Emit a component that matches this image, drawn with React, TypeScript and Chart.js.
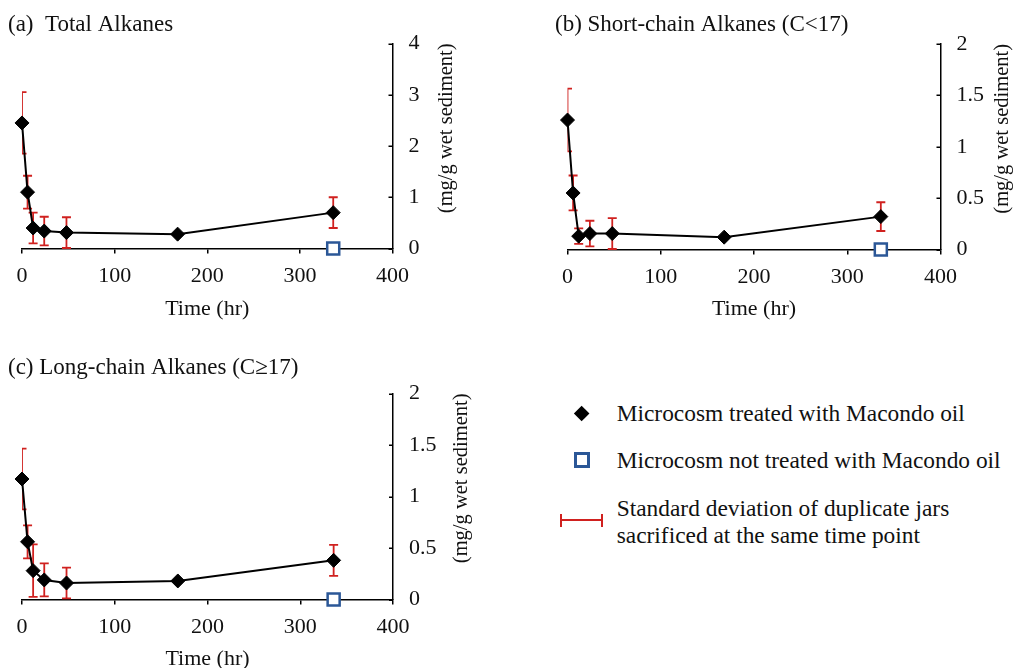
import React, { useEffect, useRef } from "react";
import { Chart, registerables } from "chart.js";

Chart.register(...registerables);

// ---------- data ----------
const hours = [0, 6, 12, 24, 48, 168, 336];
const totalMean = [2.45, 1.1, 0.4, 0.34, 0.31, 0.28, 0.7];
const totalSd = [0.6, 0.32, 0.3, 0.28, 0.3, 0, 0.3];
const shortMean = [1.26, 0.55, 0.13, 0.155, 0.155, 0.12, 0.32];
const shortSd = [0.305, 0.17, 0.075, 0.125, 0.15, 0, 0.14];
const longMean = [1.17, 0.56, 0.28, 0.19, 0.16, 0.18, 0.38];
const longSd = [0.295, 0.16, 0.255, 0.16, 0.15, 0, 0.15];
const controlHours = [336];
const controlTotal = [0];
const controlShort = [0];
const controlLong = [0];
const xTicks = [0, 100, 200, 300, 400];
const yTicksTotal = [0, 1, 2, 3, 4];
const yTicksPart = [0, 0.5, 1, 1.5, 2];
const panelTitles = [
  "(a)  Total Alkanes",
  "(b) Short-chain Alkanes (C<17)",
  "(c) Long-chain Alkanes (C\u226517)",
];
const xTitle = "Time (hr)";
const yTitle = "(mg/g wet sediment)";
const legendLabels = [
  "Microcosm treated with Macondo oil",
  "Microcosm not treated with Macondo oil",
  "Standard deviation of duplicate jars",
  "sacrificed at the same time point",
];

// ---------- styles / layout ----------
const FAMILY = "Liberation Serif, Times New Roman, serif";
const TEXT = "#111";
const RED = "#d0211f";
const BLUE = "#2b5797";

Chart.defaults.font.family = FAMILY;
Chart.defaults.font.size = 22;
Chart.defaults.color = TEXT;

type PanelCfg = {
  title: string;
  mean: number[];
  sd: number[];
  control: number[];
  yTicks: number[];
  box: { left: number; top: number; width: number; height: number };
  area: { left: number; top: number; right: number; bottom: number };
  titleX: number;
  titleBase: number;
  yTitleDx: number;
  xTitleDy: number;
};

const panels: PanelCfg[] = [
  {
    title: panelTitles[0],
    mean: totalMean,
    sd: totalSd,
    control: controlTotal,
    yTicks: yTicksTotal,
    box: { left: 0, top: 0, width: 520, height: 340 },
    area: { left: 22, top: 43.5, right: 392.5, bottom: 248.5 },
    titleX: 8,
    titleBase: 30.5,
    yTitleDx: 54.5,
    xTitleDy: 66,
  },
  {
    title: panelTitles[1],
    mean: shortMean,
    sd: shortSd,
    control: controlShort,
    yTicks: yTicksPart,
    box: { left: 545, top: 0, width: 473, height: 340 },
    area: { left: 22.5, top: 44, right: 395.5, bottom: 249.5 },
    titleX: 10,
    titleBase: 30.5,
    yTitleDx: 62,
    xTitleDy: 65,
  },
  {
    title: panelTitles[2],
    mean: longMean,
    sd: longSd,
    control: controlLong,
    yTicks: yTicksPart,
    box: { left: 0, top: 345, width: 520, height: 323 },
    area: { left: 22, top: 48.5, right: 393, bottom: 254.5 },
    titleX: 8,
    titleBase: 28.5,
    yTitleDx: 68.5,
    xTitleDy: 65,
  },
];

function Panel({ cfg }: { cfg: PanelCfg }) {
  const ref = useRef<HTMLCanvasElement>(null);
  useEffect(() => {
    const canvas = ref.current;
    if (!canvas) return;
    const { box, area } = cfg;

    const errorBars = {
      id: "errorBars",
      beforeDatasetsDraw(chart: any) {
        const { ctx, chartArea, scales } = chart;
        const xs = scales.x;
        const ys = scales.y;
        ctx.save();
        ctx.beginPath();
        ctx.rect(chartArea.left, 0, chartArea.right - chartArea.left, chart.height);
        ctx.clip();
        ctx.strokeStyle = RED;
        ctx.lineWidth = 1.8;
        hours.forEach((h, i) => {
          const sd = cfg.sd[i];
          if (!sd) return;
          const px = xs.getPixelForValue(h);
          const pt = ys.getPixelForValue(cfg.mean[i] + sd);
          const pb = ys.getPixelForValue(Math.max(cfg.mean[i] - sd, 0));
          const cap = 4.5;
          ctx.beginPath();
          ctx.moveTo(px, pt);
          ctx.lineTo(px, pb);
          ctx.moveTo(px - cap, pt);
          ctx.lineTo(px + cap, pt);
          ctx.moveTo(px - cap, pb);
          ctx.lineTo(px + cap, pb);
          ctx.stroke();
        });
        ctx.restore();
      },
    };

    const decor = {
      id: "decor",
      afterDraw(chart: any) {
        const { ctx, chartArea: a, scales } = chart;
        ctx.save();
        ctx.strokeStyle = "#000";
        ctx.lineWidth = 1.5;
        scales.y.ticks.forEach((t: any) => {
          const py = Math.round(scales.y.getPixelForValue(t.value)) + 0.25;
          ctx.beginPath();
          ctx.moveTo(a.right - 4, py);
          ctx.lineTo(a.right, py);
          ctx.stroke();
        });
        ctx.fillStyle = TEXT;
        ctx.font = `23px ${FAMILY}`;
        ctx.textAlign = "left";
        ctx.textBaseline = "alphabetic";
        ctx.fillText(cfg.title, cfg.titleX, cfg.titleBase);
        ctx.font = `22px ${FAMILY}`;
        ctx.textAlign = "center";
        ctx.fillText(xTitle, (a.left + a.right) / 2, a.bottom + cfg.xTitleDy);
        ctx.translate(a.right + cfg.yTitleDx, a.top);
        ctx.rotate(-Math.PI / 2);
        ctx.font = `20.5px ${FAMILY}`;
        ctx.textAlign = "right";
        ctx.textBaseline = "middle";
        ctx.fillText(yTitle, 0, 0);
        ctx.restore();
      },
    };

    const chart = new Chart(canvas, {
      type: "scatter",
      data: {
        datasets: [
          {
            label: legendLabels[0],
            data: hours.map((h, i) => ({ x: h, y: cfg.mean[i] })),
            showLine: true,
            borderColor: "#000",
            borderWidth: 2,
            pointStyle: "rectRot",
            pointRadius: 7,
            pointBackgroundColor: "#000",
            pointBorderColor: "#000",
            pointBorderWidth: 1,
            clip: false,
          } as any,
          {
            label: legendLabels[1],
            data: controlHours.map((h, i) => ({ x: h, y: cfg.control[i] })),
            showLine: false,
            pointStyle: "rect",
            pointRadius: 8.5,
            pointBackgroundColor: "#fff",
            pointBorderColor: BLUE,
            pointBorderWidth: 2.5,
            clip: false,
          } as any,
        ],
      },
      options: {
        responsive: false,
        animation: false,
        layout: { padding: { left: area.left, top: area.top, right: 0, bottom: 0 } },
        plugins: { legend: { display: false }, tooltip: { enabled: false } },
        scales: {
          x: {
            type: "linear",
            position: "bottom",
            min: xTicks[0],
            max: xTicks[xTicks.length - 1],
            afterBuildTicks: (s: any) => {
              s.ticks = xTicks.map((v) => ({ value: v }));
            },
            afterFit: (s: any) => {
              s.height = box.height - area.bottom;
            },
            grid: {
              display: true,
              drawOnChartArea: false,
              drawTicks: true,
              tickLength: 5,
              color: "#000",
              lineWidth: 1.5,
            },
            border: { display: true, color: "#000", width: 1.5 },
            ticks: {
              font: { family: FAMILY, size: 22 },
              color: TEXT,
              padding: 10,
              maxRotation: 0,
              autoSkip: false,
              callback: (v: any) => String(v),
            },
          },
          y: {
            type: "linear",
            position: "right",
            min: cfg.yTicks[0],
            max: cfg.yTicks[cfg.yTicks.length - 1],
            afterBuildTicks: (s: any) => {
              s.ticks = cfg.yTicks.map((v) => ({ value: v }));
            },
            afterFit: (s: any) => {
              s.width = box.width - area.right;
            },
            grid: { display: false, drawTicks: false },
            border: { display: true, color: "#000", width: 1.5 },
            ticks: {
              font: { family: FAMILY, size: 22 },
              color: TEXT,
              padding: 16,
              autoSkip: false,
              callback: (v: any) => String(v),
            },
          },
        },
      } as any,
      plugins: [errorBars, decor],
    });
    return () => chart.destroy();
  }, [cfg]);
  return (
    <canvas
      ref={ref}
      width={cfg.box.width}
      height={cfg.box.height}
      style={{
        position: "absolute",
        left: cfg.box.left,
        top: cfg.box.top,
        width: cfg.box.width,
        height: cfg.box.height,
        display: "block",
      }}
    />
  );
}

function Legend() {
  const textStyle: React.CSSProperties = {
    position: "absolute",
    left: 616.7,
    fontFamily: FAMILY,
    fontSize: 23.4,
    color: TEXT,
    whiteSpace: "nowrap",
  };
  return (
    <>
      <div
        style={{
          position: "absolute",
          left: 581.7 - 5.65,
          top: 413.3 - 5.65,
          width: 11.3,
          height: 11.3,
          background: "#000",
          transform: "rotate(45deg)",
        }}
      />
      <div style={{ ...textStyle, top: 413 - 13, lineHeight: "26px" }}>{legendLabels[0]}</div>
      <div
        style={{
          position: "absolute",
          left: 581.7 - 8,
          top: 460 - 8,
          width: 16,
          height: 16,
          boxSizing: "border-box",
          border: `3px solid ${BLUE}`,
          background: "#fff",
        }}
      />
      <div style={{ ...textStyle, top: 460 - 13, lineHeight: "26px" }}>{legendLabels[1]}</div>
      <div style={{ position: "absolute", left: 560, top: 519, width: 43.3, height: 2, background: RED }} />
      <div style={{ position: "absolute", left: 560, top: 513.5, width: 2, height: 13, background: RED }} />
      <div style={{ position: "absolute", left: 601.3, top: 513.5, width: 2, height: 13, background: RED }} />
      <div style={{ ...textStyle, top: 508 - 13.5, lineHeight: "27px" }}>
        {legendLabels[2]}
        <br />
        {legendLabels[3]}
      </div>
    </>
  );
}

export default function App() {
  return (
    <div
      style={{
        position: "absolute",
        left: 0,
        top: 0,
        width: 1018,
        height: 668,
        background: "#fff",
        overflow: "hidden",
      }}
    >
      {panels.map((p, i) => (
        <Panel key={i} cfg={p} />
      ))}
      <Legend />
    </div>
  );
}
